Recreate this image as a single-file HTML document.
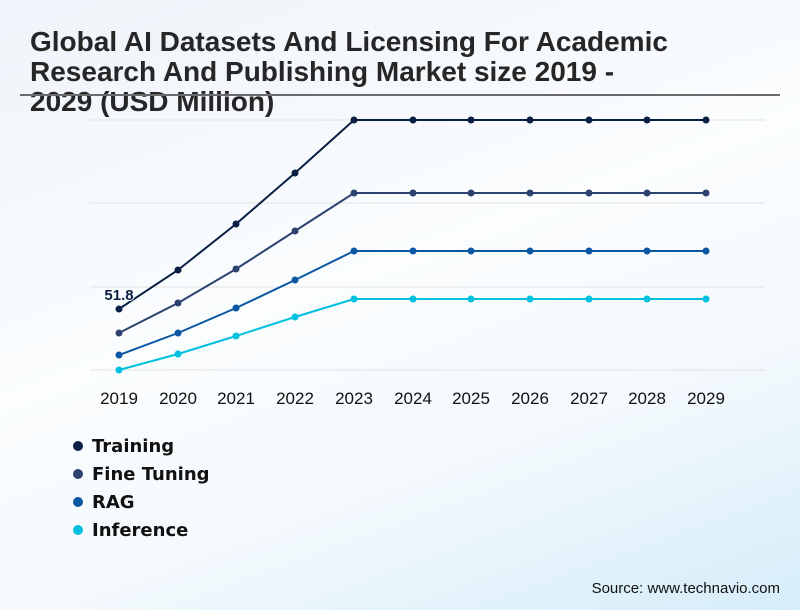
<!DOCTYPE html>
<html><head><style>
body{margin:0}
.c{width:800px;height:610px;position:relative;overflow:hidden;background:linear-gradient(160deg,#eef4fa 0%,#fbfdfe 45%,#f3f9fd 70%,#d5edf9 100%);font-family:"Liberation Sans",sans-serif}
.t{position:absolute;left:30px;top:27px;font-size:28px;font-weight:bold;color:#262626;line-height:30px;width:645px}
.l{position:absolute;left:73px;font-family:"DejaVu Sans",sans-serif;font-weight:bold;font-size:18px;color:#111}
.l span{display:inline-block;width:10px;height:10px;border-radius:50%;margin-right:9px;vertical-align:1px}
.s{position:absolute;right:20px;top:580px;font-size:15px;color:#111}
</style></head><body><div class="c">
<div class="t">Global AI Datasets And Licensing For Academic Research And Publishing Market size 2019 - 2029 (USD Million)</div>
<svg width="800" height="610" style="position:absolute;left:0;top:0">
<line x1="20" y1="95" x2="780" y2="95" stroke="#6b6b6b" stroke-width="2"/>
<g stroke="#e3e3e3" stroke-width="1">
<line x1="90" y1="120" x2="765" y2="120"/><line x1="90" y1="203" x2="765" y2="203"/><line x1="90" y1="287" x2="765" y2="287"/><line x1="90" y1="370" x2="765" y2="370"/></g>
<g fill="none" stroke-width="2">
<polyline stroke="#0a1f44" points="119,309 178,270 236,224 295,173 354,120 413,120 471,120 530,120 589,120 647,120 706,120"/>
<polyline stroke="#2e4272" points="119,333 178,303 236,269 295,231 354,193 413,193 471,193 530,193 589,193 647,193 706,193"/>
<polyline stroke="#0b57a4" points="119,355 178,333 236,308 295,280 354,251 413,251 471,251 530,251 589,251 647,251 706,251"/>
<polyline stroke="#00c0e0" points="119,370 178,354 236,336 295,317 354,299 413,299 471,299 530,299 589,299 647,299 706,299"/>
</g>
<g fill="#0a1f44"><circle cx="119" cy="309" r="3.5"/><circle cx="178" cy="270" r="3.5"/><circle cx="236" cy="224" r="3.5"/><circle cx="295" cy="173" r="3.5"/><circle cx="354" cy="120" r="3.5"/><circle cx="413" cy="120" r="3.5"/><circle cx="471" cy="120" r="3.5"/><circle cx="530" cy="120" r="3.5"/><circle cx="589" cy="120" r="3.5"/><circle cx="647" cy="120" r="3.5"/><circle cx="706" cy="120" r="3.5"/></g>
<g fill="#2e4272"><circle cx="119" cy="333" r="3.5"/><circle cx="178" cy="303" r="3.5"/><circle cx="236" cy="269" r="3.5"/><circle cx="295" cy="231" r="3.5"/><circle cx="354" cy="193" r="3.5"/><circle cx="413" cy="193" r="3.5"/><circle cx="471" cy="193" r="3.5"/><circle cx="530" cy="193" r="3.5"/><circle cx="589" cy="193" r="3.5"/><circle cx="647" cy="193" r="3.5"/><circle cx="706" cy="193" r="3.5"/></g>
<g fill="#0b57a4"><circle cx="119" cy="355" r="3.5"/><circle cx="178" cy="333" r="3.5"/><circle cx="236" cy="308" r="3.5"/><circle cx="295" cy="280" r="3.5"/><circle cx="354" cy="251" r="3.5"/><circle cx="413" cy="251" r="3.5"/><circle cx="471" cy="251" r="3.5"/><circle cx="530" cy="251" r="3.5"/><circle cx="589" cy="251" r="3.5"/><circle cx="647" cy="251" r="3.5"/><circle cx="706" cy="251" r="3.5"/></g>
<g fill="#00c0e0"><circle cx="119" cy="370" r="3.5"/><circle cx="178" cy="354" r="3.5"/><circle cx="236" cy="336" r="3.5"/><circle cx="295" cy="317" r="3.5"/><circle cx="354" cy="299" r="3.5"/><circle cx="413" cy="299" r="3.5"/><circle cx="471" cy="299" r="3.5"/><circle cx="530" cy="299" r="3.5"/><circle cx="589" cy="299" r="3.5"/><circle cx="647" cy="299" r="3.5"/><circle cx="706" cy="299" r="3.5"/></g>
<text x="119" y="300" text-anchor="middle" font-family="Liberation Sans" font-weight="bold" font-size="15" fill="#0a1f44" stroke="#fff" stroke-width="2" paint-order="stroke">51.8</text>
<g font-family="Liberation Sans,sans-serif" font-size="17" fill="#111" text-anchor="middle">
<text x="119" y="404">2019</text><text x="178" y="404">2020</text><text x="236" y="404">2021</text><text x="295" y="404">2022</text><text x="354" y="404">2023</text><text x="413" y="404">2024</text><text x="471" y="404">2025</text><text x="530" y="404">2026</text><text x="589" y="404">2027</text><text x="647" y="404">2028</text><text x="706" y="404">2029</text></g>
</svg>
<div class="l" style="top:436px"><span style="background:#0a1f44"></span>Training</div>
<div class="l" style="top:464px"><span style="background:#2e4272"></span>Fine Tuning</div>
<div class="l" style="top:492px"><span style="background:#0b57a4"></span>RAG</div>
<div class="l" style="top:520px"><span style="background:#00c0e0"></span>Inference</div>
<div class="s">Source: www.technavio.com</div>
</div></body></html>
